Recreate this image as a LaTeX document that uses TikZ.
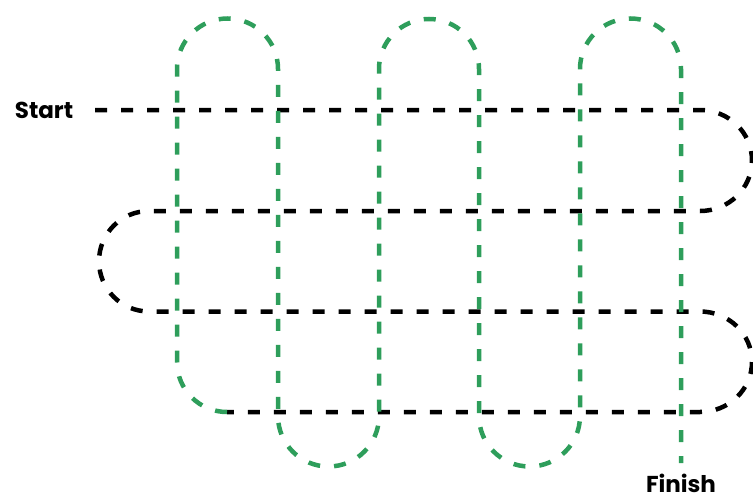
\documentclass[tikz,border=0pt]{standalone}
\usepackage{fontspec}
\setmainfont{Poppins}
\usepackage{tikz}
\usepackage{xcolor}
\usetikzlibrary{positioning}
\definecolor{pathgreen}{RGB}{46,158,91}

\begin{document}
\begin{tikzpicture}[x=1pt, y=-1pt,
  lbl/.style={font=\bfseries\fontsize{23}{26}\selectfont, inner sep=0pt},
  blk/.style={draw=black, line width=4.5pt, dash pattern=on 12pt off 14pt},
  grn/.style={draw=pathgreen, line width=4.5pt, dash pattern=on 12pt off 14pt}
]
\useasboundingbox (0,0) rectangle (753,498);

\node[lbl] (start) at (44,110) {Start};
\node[lbl, anchor=south] (finish) at (681,493) {Finish};

\coordinate (s0) at (95,110);
\coordinate (f0) at (681,463);

% black path, row by row
\draw[blk] (s0) -- (700,110)
  arc[start angle=-90, end angle=90, x radius=52, y radius=50.5] -- (149,211)
  arc[start angle=270, end angle=90, x radius=50, y radius=50.25] -- (700,311.5)
  arc[start angle=-90, end angle=90, x radius=52, y radius=50.25] -- (227,412);

% green path, column by column
\draw[grn] (227,412) arc[start angle=90, end angle=180, radius=50] -- (177,69)
  arc[start angle=180, end angle=360, radius=50.5] -- (278,416)
  arc[start angle=180, end angle=0, radius=50.5] -- (379,69)
  arc[start angle=180, end angle=360, radius=50] -- (479,416)
  arc[start angle=180, end angle=0, radius=50.5] -- (580,69)
  arc[start angle=180, end angle=360, radius=50.5] -- (f0);
\end{tikzpicture}
\end{document}
